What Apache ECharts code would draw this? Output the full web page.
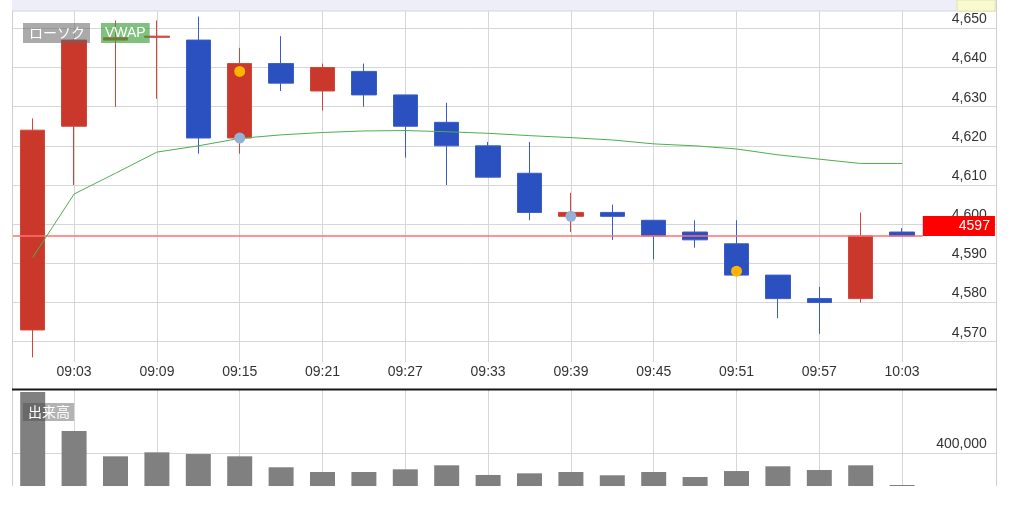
<!DOCTYPE html>
<html><head><meta charset="utf-8">
<script src="https://cdn.jsdelivr.net/npm/echarts@6/dist/echarts.min.js"></script>
<style>html,body{margin:0;padding:0;background:#fff;}#c{width:1024px;height:509px;}</style>
</head><body><div id="c"></div>
<script>
// ---- data ----
const times = ['09:00','09:03','09:06','09:09','09:12','09:15','09:18','09:21','09:24','09:27','09:30',
               '09:33','09:36','09:39','09:42','09:45','09:48','09:51','09:54','09:57','10:00','10:03'];
const opens  = [4573, 4625, 4647, 4647.7, 4647, 4622, 4641, 4634, 4639, 4633, 4626, 4620, 4613, 4602, 4603, 4601, 4598, 4595, 4587, 4581, 4581, 4598];
const closes = [4624, 4647, 4647.6, 4648, 4622, 4641, 4636, 4640, 4633, 4625, 4620, 4612, 4603, 4603, 4602, 4597, 4596, 4587, 4581, 4580, 4597, 4597];
const lows   = [4566, 4610, 4630, 4632, 4618, 4618, 4634, 4629, 4630, 4617, 4610, 4612, 4601, 4598, 4596, 4591, 4594, 4587, 4576, 4572, 4580, 4597];
const highs  = [4627, 4647.3, 4652, 4652, 4653, 4645, 4648, 4641, 4641, 4633, 4631, 4621, 4621, 4608, 4605, 4601, 4601, 4601, 4587, 4584, 4603, 4599];
const vwap   = [4591.5, 4607.7, 4613.0, 4618.4, 4620.0, 4621.9, 4622.8, 4623.4, 4623.8, 4623.9, 4623.6,
                4623.2, 4622.6, 4622.1, 4621.5, 4620.5, 4620.0, 4619.2, 4617.7, 4616.6, 4615.5, 4615.5];
const volumes = [1150000, 673000, 363000, 412000, 391000, 363000, 229000, 171000, 171000, 204000, 253000,
                 135000, 155000, 171000, 131000, 171000, 110000, 183000, 241000, 196000, 253000, 12000];
const yellowMarks = [['09:15', 4639], ['09:51', 4588]];
const blueMarks   = [['09:15', 4622], ['09:39', 4602]];
const lastPrice = 4597;
const priceTicks = [4570, 4580, 4590, 4600, 4610, 4620, 4630, 4640, 4650];
const volumeTicks = [400000];

// ---- chart ----
const comma = v => String(v).replace(/\B(?=(\d{3})+(?!\d))/g, ',');
const gridColor = '#d6d6d6';
const FONT = '"Liberation Sans", Arial, sans-serif';
const oddIdx = i => i % 2 === 1;

const chart = echarts.init(document.getElementById('c'));
const catAxis = (gi, showLabel) => ({
  type: 'category', gridIndex: gi, data: times, boundaryGap: true,
  axisLine: {show: false}, axisTick: {show: false},
  axisLabel: {show: showLabel, interval: oddIdx, margin: 3, fontSize: 14, color: '#333', fontFamily: FONT},
  splitLine: {show: true, interval: oddIdx, alignWithLabel: true, lineStyle: {color: gridColor, width: 1}}
});
const valAxis = (gi, min, max, ticks) => ({
  type: 'value', gridIndex: gi, position: 'right', min: min, max: max,
  axisLine: {show: false},
  axisTick: {show: true, length: 74, customValues: ticks, lineStyle: {color: gridColor}},
  axisLabel: {customValues: ticks, align: 'right', margin: 64, verticalAlign: 'bottom', lineHeight: 18,
              fontSize: 14, color: '#333', fontFamily: FONT, formatter: v => comma(v)},
  splitLine: {show: true, lineStyle: {color: gridColor, width: 1}}
});

const option = {
  animation: false,
  backgroundColor: '#fff',
  grid: [
    {left: 12, top: 11, width: 910.8, height: 351},
    {left: 12, top: 390, width: 910.8, height: 96}
  ],
  xAxis: [catAxis(0, true), catAxis(1, false)],
  yAxis: [valAxis(0, 4564.82, 4654.42, priceTicks), valAxis(1, 0, 1174300, volumeTicks)],
  series: [
    {
      type: 'candlestick', xAxisIndex: 0, yAxisIndex: 0, barWidth: 25,
      data: times.map((t, i) => [opens[i], closes[i], lows[i], highs[i]]),
      itemStyle: {color: '#c9382b', color0: '#2b50bf', borderColor: '#d0463a', borderColor0: '#3a5cc8', borderWidth: 1},
      markLine: {
        silent: true, symbol: 'none', z: 4,
        lineStyle: {color: '#ff7070', width: 1.5, type: 'solid'},
        label: {position: 'end', distance: 0, formatter: String(lastPrice), color: '#fff', fontSize: 14,
                fontFamily: FONT, backgroundColor: '#ff0000', padding: [3, 5, 2, 36], lineHeight: 15,
                align: 'left', verticalAlign: 'bottom'},
        data: [{yAxis: lastPrice}]
      }
    },
    {
      type: 'line', xAxisIndex: 0, yAxisIndex: 0, data: vwap, symbol: 'none', z: 5,
      lineStyle: {color: '#4caf50', width: 1}
    },
    {
      type: 'scatter', xAxisIndex: 0, yAxisIndex: 0, data: yellowMarks, symbolSize: 11, z: 6,
      itemStyle: {color: '#ffb400', opacity: 1}
    },
    {
      type: 'scatter', xAxisIndex: 0, yAxisIndex: 0, data: blueMarks, symbolSize: 11, z: 6,
      itemStyle: {color: '#93b2d6', opacity: 1}
    },
    {
      type: 'bar', xAxisIndex: 1, yAxisIndex: 1, data: volumes, barWidth: 25,
      itemStyle: {color: '#808080'}
    }
  ],
  graphic: [
    {type: 'rect', z: 50, shape: {x: 12, y: 0, width: 984, height: 11}, style: {fill: '#eeeef9', stroke: null}},
    {type: 'line', z: 51, shape: {x1: 12, y1: 11, x2: 996, y2: 11}, style: {stroke: '#d4d4e2', lineWidth: 1}},
    {type: 'rect', z: 52, shape: {x: 957, y: 0, width: 38, height: 11}, style: {fill: '#fafad2', stroke: '#e6e6a8', lineWidth: 1}},
    {type: 'line', z: 51, shape: {x1: 12.5, y1: 11, x2: 12.5, y2: 486}, style: {stroke: '#cfcfcf', lineWidth: 1}},
    {type: 'line', z: 51, shape: {x1: 996.5, y1: 0, x2: 996.5, y2: 486}, style: {stroke: '#cfcfcf', lineWidth: 1}},
    {type: 'line', z: 51, shape: {x1: 12, y1: 389.5, x2: 997, y2: 389.5}, style: {stroke: '#161616', lineWidth: 2}},
    {type: 'text', z: 60, x: 23, y: 23,
     style: {text: 'ローソク', fill: '#fff', font: '14px "Noto Sans CJK JP"', backgroundColor: 'rgba(100,100,100,0.55)',
             padding: [2, 5, 2, 6], lineHeight: 16}},
    {type: 'text', z: 60, x: 101, y: 23,
     style: {text: 'VWAP', fill: '#fff', font: '14px "Liberation Sans", Arial', backgroundColor: 'rgba(60,160,60,0.65)',
             padding: [2, 4, 2, 4], lineHeight: 16}},
    {type: 'text', z: 60, x: 23, y: 403,
     style: {text: '出来高', fill: '#fff', font: '14px "Noto Sans CJK JP"', backgroundColor: 'rgba(75,75,75,0.42)',
             padding: [1, 4, 1, 5], lineHeight: 16}}
  ]
};
chart.setOption(option);
</script></body></html>
